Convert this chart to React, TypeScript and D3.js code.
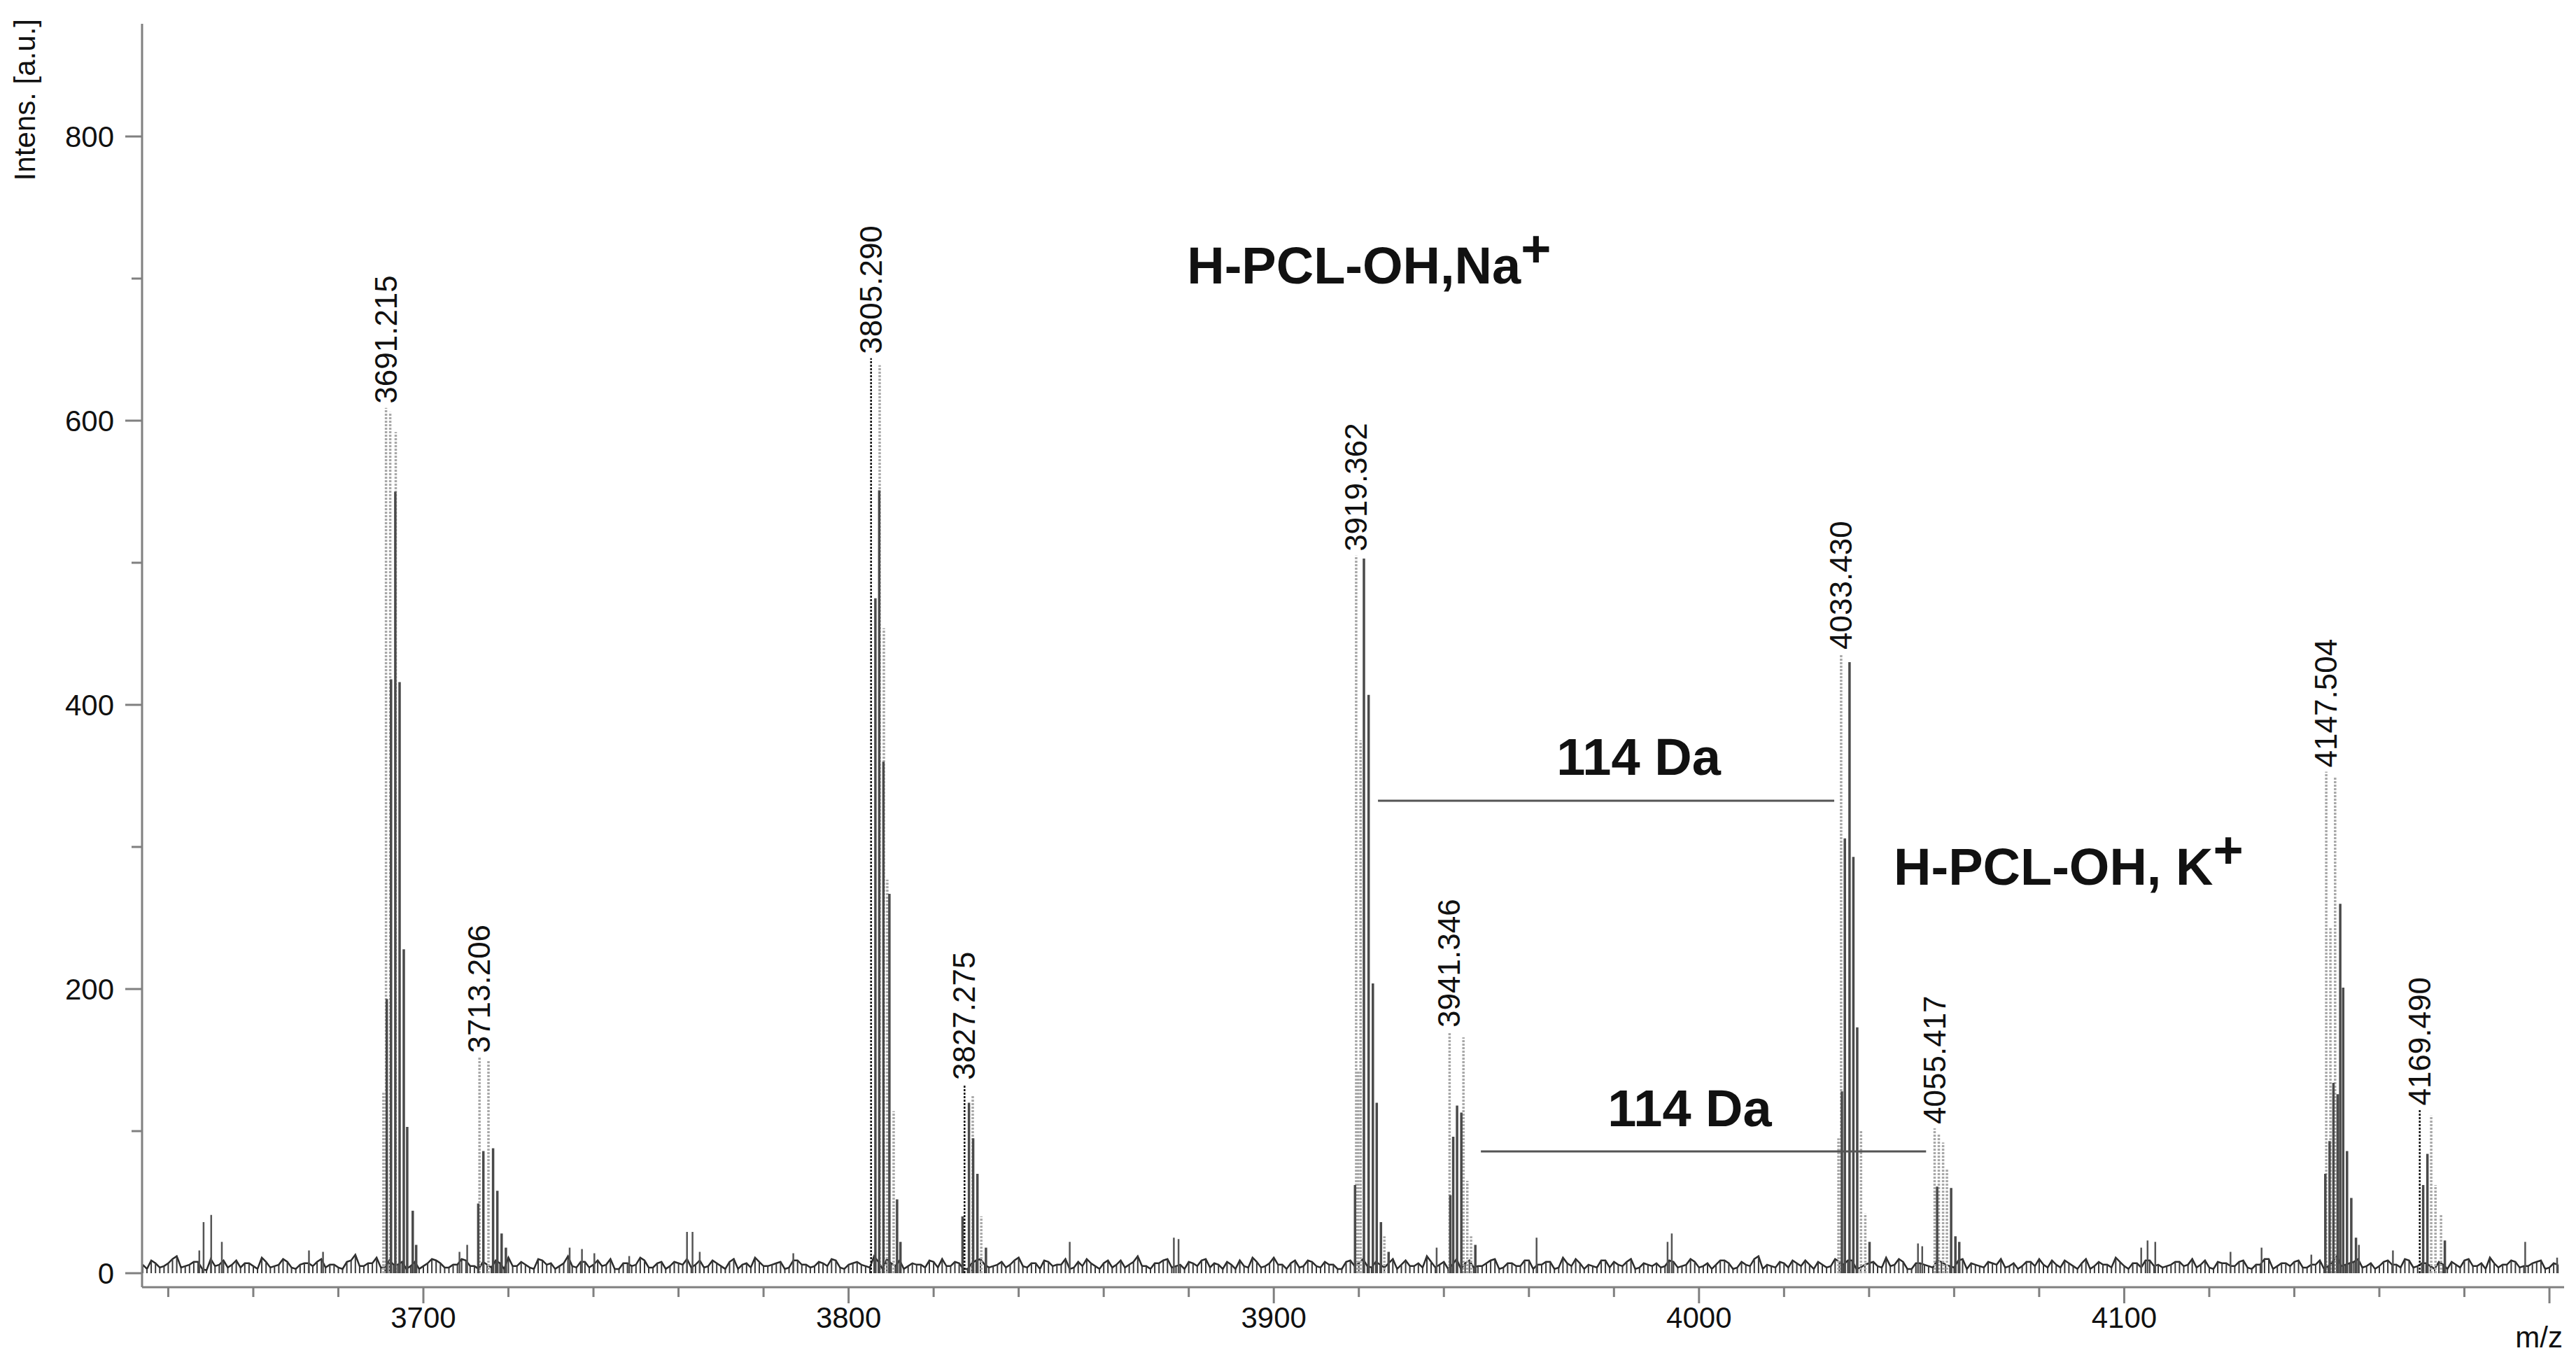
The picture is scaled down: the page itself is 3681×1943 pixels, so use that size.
import React from 'react';
import * as d3 from 'd3';

const W = 3681;
const H = 1943;
const FONT = "'Liberation Sans', Arial, sans-serif";

// three overlaid acquisitions, sticks as [m/z, intensity]
const traceBlack: [number, number][] = [
  [3805.29, 644], [3827.275, 133], [4169.49, 115],
];

const traceGray: [number, number][] = [
  [3691.4, 193], [3692.4, 418], [3693.4, 550], [3694.4, 416], [3695.4, 228], [3696.2, 103], [3697.5, 44], [3698.3, 20],
  [3712.9, 49], [3714.1, 86], [3716.4, 88], [3717.4, 58], [3718.4, 28], [3719.4, 18],
  [3806.3, 475], [3807.2, 551], [3808.2, 360], [3809.6, 267], [3811.4, 52], [3812.2, 22],
  [3826.8, 40], [3828.3, 120], [3829.3, 95], [3830.3, 70], [3832.3, 18],
  [3919.1, 62], [3921.2, 503], [3922.3, 407], [3923.3, 204], [3924.2, 120], [3925.2, 36], [3927.0, 15],
  [3941.5, 55], [3942.2, 96], [3943.1, 118], [3944.1, 113], [3947.4, 20],
  [4033.6, 128], [4034.3, 306], [4035.4, 430], [4036.3, 293], [4037.2, 173], [4040.1, 22],
  [4056.0, 61], [4059.3, 60], [4060.3, 26], [4061.2, 22],
  [4147.3, 70], [4148.3, 93], [4149.2, 134], [4150.2, 126], [4150.8, 260], [4151.5, 201], [4152.4, 86], [4153.4, 53], [4154.5, 25],
  [4170.3, 62], [4171.3, 84], [4175.4, 23],
];

const traceLight: [number, number][] = [
  [3690.6, 127], [3691.215, 609], [3692.2, 606], [3693.5, 592],
  [3713.206, 152], [3715.3, 150],
  [3807.3, 639], [3808.3, 454], [3809.1, 277], [3810.6, 114],
  [3829.2, 125], [3831.2, 40],
  [3919.362, 505], [3919.8, 142], [3920.4, 375], [3926.0, 26],
  [3941.346, 170], [3944.6, 166], [3945.5, 65], [3946.4, 26],
  [4032.8, 95], [4033.43, 436], [4038.1, 100], [4039.1, 42],
  [4055.417, 102], [4056.4, 98], [4057.4, 92], [4058.3, 73],
  [4147.504, 353], [4148.5, 243], [4149.6, 349],
  [4172.2, 111], [4173.2, 62], [4174.5, 41],
];

// small isolated peaks in the baseline
const minorPeaks: [number, number][] = [
  [3647.3, 16], [3648.3, 36], [3650.1, 41], [3652.6, 22], [3673.1, 16], [3676.4, 15],
  [3708.5, 15], [3710.3, 20], [3734.4, 18], [3737.3, 17], [3740.2, 14], [3748.4, 12],
  [3762.0, 29], [3763.3, 29], [3765.0, 15], [3787.0, 14], [3852.0, 22], [3876.5, 25],
  [3877.6, 24], [3938.3, 18], [3961.8, 25], [3992.6, 22], [3993.6, 28], [4051.5, 21],
  [4052.5, 19], [4104.0, 18], [4105.5, 23], [4107.3, 22], [4125.0, 15], [4132.3, 18],
  [4144.0, 13], [4155.2, 20], [4163.2, 16], [4194.3, 22], [4201.8, 11],
];

// baseline noise, one value every 2 m/z: set A from 3634, set B from 3635
const noiseStep = 2;
const noiseStartA = 3634;
const noiseA: number[] = [
  6, 9, 4, 7, 12, 5, 8, 3, 10, 6, 4, 9, 7, 5, 11, 4, 6, 8, 3, 7,
  5, 10, 6, 4, 8, 13, 5, 7, 4, 9, 6, 3, 8, 5, 10, 7, 4, 6, 9, 5,
  8, 4, 7, 11, 5, 6, 3, 9, 7, 5, 12, 4, 8, 6, 5, 10, 3, 7, 6, 9,
  4, 8, 5, 7, 10, 6, 4, 9, 5, 8, 3, 7, 11, 5, 6, 8, 4, 9, 6, 5,
  7, 10, 4, 6, 8, 5, 12, 3, 7, 9, 5, 6, 4, 8, 10, 5, 7, 3, 9, 6,
  5, 8, 6, 11, 4, 7, 9, 5, 6, 3, 8, 10, 5, 7, 4, 9, 6, 12, 5, 7,
  9, 4, 6, 8, 5, 10, 7, 3, 6, 9, 4, 8, 5, 11, 6, 7, 4, 9, 5, 8,
  6, 3, 9, 7, 5, 8, 4, 10, 6, 5, 7, 12, 4, 8, 6, 3, 9, 5, 7, 10,
  4, 7, 5, 9, 6, 8, 3, 11, 5, 7, 6, 4, 9, 8, 5, 10, 4, 6, 7, 5,
  8, 5, 10, 4, 7, 6, 9, 3, 8, 5, 12, 6, 4, 7, 9, 5, 6, 8, 4, 10,
  6, 9, 4, 7, 5, 11, 6, 8, 3, 7, 5, 9, 6, 4, 10, 7, 5, 8, 6, 4,
  7, 5, 8, 10, 4, 6, 9, 5, 7, 3, 8, 6, 11, 5, 7, 4, 9, 6, 5, 8,
  5, 10, 6, 4, 8, 7, 5, 9, 3, 6, 10, 5, 7, 8, 4, 6, 9, 5, 12, 6,
  8, 4, 7, 5, 9, 6, 10, 4, 7, 5, 8, 3, 6, 9, 5, 7, 11, 4, 6, 8,
  5, 7, 9, 4, 6,
];
const noiseStartB = 3635;
const noiseB: number[] = [
  3, 7, 5, 10, 4, 6, 8, 2, 5, 9, 6, 4, 7, 3, 8, 5, 10, 4, 6, 7,
  8, 4, 6, 3, 9, 5, 7, 11, 4, 6, 8, 5, 3, 7, 9, 4, 6, 10, 5, 3,
  6, 9, 3, 5, 8, 4, 10, 6, 3, 7, 5, 8, 4, 9, 6, 3, 7, 5, 11, 4,
  7, 3, 8, 6, 4, 9, 5, 7, 3, 10, 6, 4, 8, 5, 7, 3, 9, 6, 4, 8,
  5, 9, 3, 7, 6, 4, 8, 10, 5, 3, 7, 6, 9, 4, 5, 8, 3, 7, 10, 4,
  6, 4, 9, 5, 7, 3, 8, 6, 10, 4, 5, 7, 3, 9, 6, 4, 8, 5, 3, 7,
  10, 5, 3, 7, 9, 4, 6, 8, 3, 5, 11, 4, 7, 6, 3, 9, 5, 8, 4, 6,
  3, 8, 5, 10, 4, 6, 7, 3, 9, 5, 4, 8, 6, 3, 10, 7, 4, 5, 9, 3,
  7, 5, 9, 3, 6, 8, 4, 7, 10, 3, 5, 9, 4, 6, 8, 3, 7, 5, 4, 9,
  4, 6, 8, 5, 3, 9, 7, 4, 6, 10, 3, 5, 8, 4, 7, 9, 3, 6, 5, 8,
  9, 3, 6, 8, 4, 5, 10, 3, 7, 6, 4, 8, 5, 9, 3, 6, 4, 7, 10, 5,
  3, 8, 5, 6, 9, 4, 7, 3, 10, 5, 6, 4, 8, 3, 7, 9, 5, 4, 6, 8,
  6, 4, 9, 3, 7, 5, 8, 4, 6, 10, 3, 7, 5, 9, 4, 6, 3, 8, 5, 7,
  10, 5, 3, 8, 6, 4, 9, 5, 7, 3, 6, 8, 4, 10, 5, 3, 7, 6, 9, 4,
  5, 8, 3, 7,
];

const labelledPeaks = [3691.215, 3713.206, 3805.29, 3827.275, 3919.362, 3941.346, 4033.43, 4055.417, 4147.504, 4169.49];

const yMajor = [0, 200, 400, 600, 800];
const yMinor = [100, 300, 500, 700];
const xMajor = [3700, 3800, 3900, 4000, 4100, 4200];
const xLabels = [3700, 3800, 3900, 4000, 4100];

// annotations anchored in data coordinates
const spacings = [
  { text: '114 Da', from: 3924.5, to: 4031.8, level: 332.5, textMz: 3966.5, textLevel: 350.7 },
  { text: '114 Da', from: 3948.7, to: 4053.4, level: 85.7, textMz: 3978.5, textLevel: 103.4 },
];
const series = [
  { text: 'H-PCL-OH,Na', mz: 3879.6, level: 696.5 },
  { text: 'H-PCL-OH, K', mz: 4045.8, level: 273.4 },
];

const x = d3.scaleLinear().domain([3633.84, 4203.45]).range([203, 3664]);
const y = d3.scaleLinear().domain([-9.85, 879.3]).range([1839, 34]);

const sticks = (data: [number, number][]) =>
  data.map(([m, v]) => `M${x(m).toFixed(1)},${y(0).toFixed(1)}V${y(v).toFixed(1)}`).join('');

const App: React.FC = () => {
  const ptsA: [number, number][] = noiseA.map((v, i) => [noiseStartA + i * noiseStep, v]);
  const ptsB: [number, number][] = noiseB.map((v, i) => [noiseStartB + i * noiseStep, v]);
  const profile = [...ptsA, ...ptsB].sort((a, b) => a[0] - b[0]);
  const noiseLine = d3.line<[number, number]>().x(d => x(d[0])).y(d => y(d[1]))(profile) || '';
  const allSticks = [...traceBlack, ...traceGray, ...traceLight];
  const xMinor = d3.range(3640, 4201, 20).filter(v => v % 100 !== 0);

  return (
    <svg width={W} height={H} style={{ position: 'absolute', left: 0, top: 0, background: '#fff' }}
      fontFamily={FONT}>
      {/* baseline noise */}
      <path d={noiseLine} fill="none" stroke="#2a2a2a" strokeWidth={2.5} />
      <path d={sticks(profile)} stroke="#3a3a3a" strokeWidth={2} />
      <path d={sticks(minorPeaks)} stroke="#555" strokeWidth={2.5} />

      {/* isotope clusters */}
      <path d={sticks(traceLight)} stroke="#a8a8a8" strokeWidth={3.5} strokeDasharray="3 2" />
      <path d={sticks(traceGray)} stroke="#4a4a4a" strokeWidth={3.5} />
      <path d={sticks(traceBlack)} stroke="#111" strokeWidth={2.5} strokeDasharray="3 2" />

      {/* peak labels */}
      {labelledPeaks.map(m => {
        const top = d3.max(allSticks.filter(d => Math.abs(d[0] - m) < 0.05), d => d[1]) || 0;
        const px = x(m) + 15;
        const py = y(top) - 6;
        return (
          <text key={m} x={px} y={py} transform={`rotate(-90,${px},${py})`} fontSize={44} fill="#111">
            {m.toFixed(3)}
          </text>
        );
      })}

      {/* y axis */}
      <line x1={x.range()[0]} x2={x.range()[0]} y1={y.range()[1]} y2={y.range()[0]} stroke="#808080" strokeWidth={3} />
      {yMajor.map(v => (
        <g key={v}>
          <line x1={179} x2={203} y1={y(v)} y2={y(v)} stroke="#808080" strokeWidth={3} />
          <text x={163} y={y(v) + 15} textAnchor="end" fontSize={42} fill="#111">{v}</text>
        </g>
      ))}
      {yMinor.map(v => (
        <line key={v} x1={188} x2={203} y1={y(v)} y2={y(v)} stroke="#808080" strokeWidth={3} />
      ))}
      <text x={50} y={27} transform="rotate(-90,50,27)" textAnchor="end" fontSize={42} fill="#111">Intens. [a.u.]</text>

      {/* x axis */}
      <line x1={x.range()[0]} x2={x.range()[1]} y1={y(-9.85)} y2={y(-9.85)} stroke="#808080" strokeWidth={3} />
      {xMajor.map(v => (
        <line key={v} x1={x(v)} x2={x(v)} y1={1839} y2={1862} stroke="#808080" strokeWidth={3} />
      ))}
      {xMinor.map(v => (
        <line key={v} x1={x(v)} x2={x(v)} y1={1839} y2={1853} stroke="#808080" strokeWidth={3} />
      ))}
      {xLabels.map(v => (
        <text key={v} x={x(v)} y={1897} textAnchor="middle" fontSize={42} fill="#111">{v}</text>
      ))}
      <text x={3662} y={1925} textAnchor="end" fontSize={42} fill="#111">m/z</text>

      {/* annotations */}
      {spacings.map((s, i) => (
        <g key={i}>
          <line x1={x(s.from)} x2={x(s.to)} y1={y(s.level)} y2={y(s.level)} stroke="#555" strokeWidth={3} />
          <text x={x(s.textMz)} y={y(s.textLevel)} fontSize={74} fontWeight="bold" fill="#111">{s.text}</text>
        </g>
      ))}
      {series.map((s, i) => (
        <text key={i} x={x(s.mz)} y={y(s.level)} fontSize={74} fontWeight="bold" fill="#111">
          {s.text}
          <tspan dy={-24} fontSize={74}>+</tspan>
        </text>
      ))}
    </svg>
  );
};

export default App;
